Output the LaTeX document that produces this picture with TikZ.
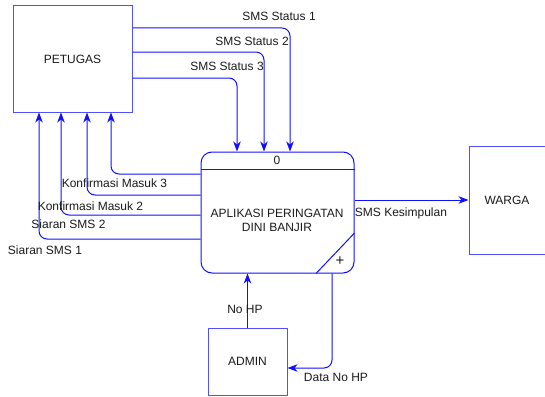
\documentclass[tikz,border=0pt]{standalone}
\usepackage{fontspec}
\setmainfont{Liberation Sans}
\usepackage{xcolor}
\usetikzlibrary{arrows.meta,positioning,calc}
\definecolor{Flow}{HTML}{1010FF}
\definecolor{Edge}{HTML}{5050FF}
\definecolor{Ink}{HTML}{1A1A1A}
\tikzset{
  entity/.style={draw=Edge, line width=1pt, inner sep=0pt, text=Ink},
  procbox/.style={draw=Flow, line width=1pt, rounded corners=11pt, inner sep=0pt},
  flow/.style={draw=Flow, line width=1pt, rounded corners=8pt, -{Stealth[length=10pt,width=7.5pt,inset=3pt]}},
  lbl/.style={text=Ink, inner sep=0pt}
}

\begin{document}
\begin{tikzpicture}[x=1pt, y=-1pt, font=\fontsize{12}{14}\selectfont]
        \useasboundingbox (0,0) rectangle (545,396);
        % external entities
        \node[entity, minimum width=119, minimum height=106] (petu) at (72.5,59) {PETUGAS};
        \node[entity, minimum width=78, minimum height=108] (warga) at (508,200) {};
        \node[lbl] (wargatxt) at (507,200) {WARGA};
        \node[entity, minimum width=79, minimum height=67] (admin) at (247.5,361.5) {ADMIN};
        % process
        \node[procbox, minimum width=153, minimum height=121] (proc) at (277.5,212.5) {};
        \draw[Flow, line width=1pt] (proc.west |- 0,169) -- (proc.east |- 0,169);
        \draw[Flow, line width=1pt] (proc.east |- 0,233) -- (proc.south -| 316,0);
        \node[lbl] (pnum) at (277,160) {0};
        \node[lbl, align=center] (pname) at (277,220) {APLIKASI PERINGATAN\\DINI BANJIR};
        \node[lbl, font=\fontsize{15}{15}\selectfont] (pplus) at (340,261) {+};
        % petugas -> proses
        \draw[flow] (petu.east |- 0,28) -| (proc.north -| 290,0);
        \draw[flow] (petu.east |- 0,52) -| (proc.north -| 264,0);
        \draw[flow] (petu.east |- 0,78) -| (proc.north -| 237,0);
        \node[lbl] (ss1) at (279,16) {SMS Status 1};
        \node[lbl] (ss2) at (252,41) {SMS Status 2};
        \node[lbl] (ss3) at (227,66) {SMS Status 3};
        % proses -> petugas
        \draw[flow] (proc.west |- 0,174) -| (petu.south -| 111,0);
        \draw[flow] (proc.west |- 0,195) -| (petu.south -| 87,0);
        \draw[flow] (proc.west |- 0,215) -| (petu.south -| 61,0);
        \draw[flow] (proc.west |- 0,239) -| (petu.south -| 39,0);
        \node[lbl] (km3) at (114.5,183) {Konfirmasi Masuk 3};
        \node[lbl] (km2) at (90.5,206) {Konfirmasi Masuk 2};
        \node[lbl] (sr2) at (68.5,224) {Siaran SMS 2};
        \node[lbl] (sr1) at (45,250) {Siaran SMS 1};
        % proses -> warga
        \draw[flow] (proc.east |- 0,200) -- (warga.west |- 0,200);
        \node[lbl] (kes) at (401,213) {SMS Kesimpulan};
        % admin
        \draw[flow] (admin.north) -- (proc.south -| admin.north);
        \node[lbl] (nohp) at (245,309) {No HP};
        \draw[flow] (proc.south -| 332,0) |- (admin.east |- 0,368);
        \node[lbl] (dnohp) at (336,377) {Data No HP};
\end{tikzpicture}
\end{document}
